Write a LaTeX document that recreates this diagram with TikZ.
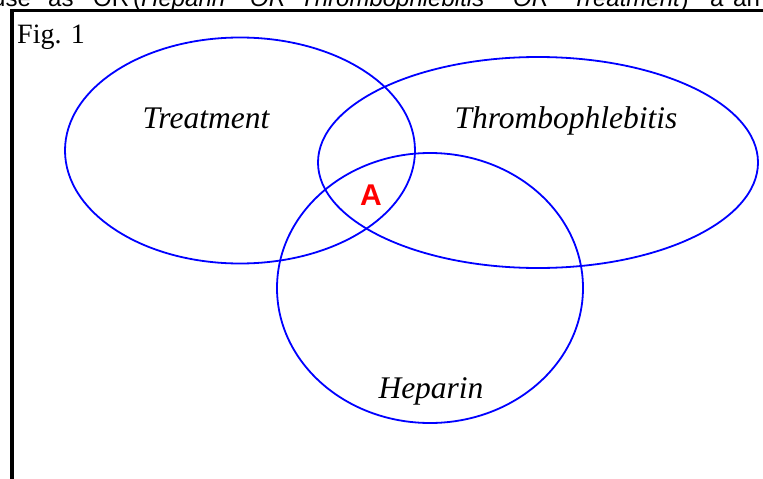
\documentclass[tikz,border=0pt]{standalone}
\usepackage{fontspec}
\setmainfont{Liberation Serif}
\setsansfont{Liberation Sans}
\usepackage{xcolor}
\usetikzlibrary{shapes.geometric}
\usetikzlibrary{positioning}

\begin{document}
\begin{tikzpicture}[x=1pt,y=-1pt]
 \tikzstyle{set}=[ellipse, draw=blue, line width=1.8pt, inner sep=0pt]
 \tikzstyle{setlabel}=[anchor=base, inner sep=0pt, font=\fontsize{31.5}{36}\selectfont\itshape]
 \tikzstyle{toptext}=[anchor=base west, inner sep=0pt, font=\sffamily\fontsize{24}{28}\selectfont]
 \useasboundingbox (0,0) rectangle (763,479);

 % line of the page text above the figure, cut by the page edge
 \foreach \w/\x [count=\i] in {{use}/-8, {as}/48, {OR}/93, {(\textit{Heparin}}/133, {\textit{OR}}/250,
   {\textit{Thrombophlebitis}}/300, {\textit{OR}}/513, {\textit{Treatment})}/572, {a}/710, {an}/733}
   \node[toptext] (top\i) at (\x,6.2) {\w};

 % frame
 \draw[line width=3.6pt] (11.7,495) -- (11.7,10.5) -- (780,10.5);
 \node[anchor=base west, inner sep=0pt, font=\fontsize{28}{32}\selectfont] (fig) at (17,43) {Fig. 1};

 % the three sets
 \node[set, minimum width=350pt, minimum height=226pt] (treat) at (240,150.5) {};
 \node[set, minimum width=440pt, minimum height=211pt] (thromb) at (538,162.5) {};
 \node[set, minimum width=306pt, minimum height=270pt] (hep) at (430,288) {};

 \node[setlabel] (treatlbl) at (206,128) {Treatment};
 \node[setlabel] (thromblbl) at (566,128) {Thrombophlebitis};
 \node[setlabel] (heplbl) at (431,398) {Heparin};
 \node[anchor=base, inner sep=0pt, text=red, font=\sffamily\bfseries\fontsize{30}{34}\selectfont] (A) at (371,205) {A};
\end{tikzpicture}
\end{document}
